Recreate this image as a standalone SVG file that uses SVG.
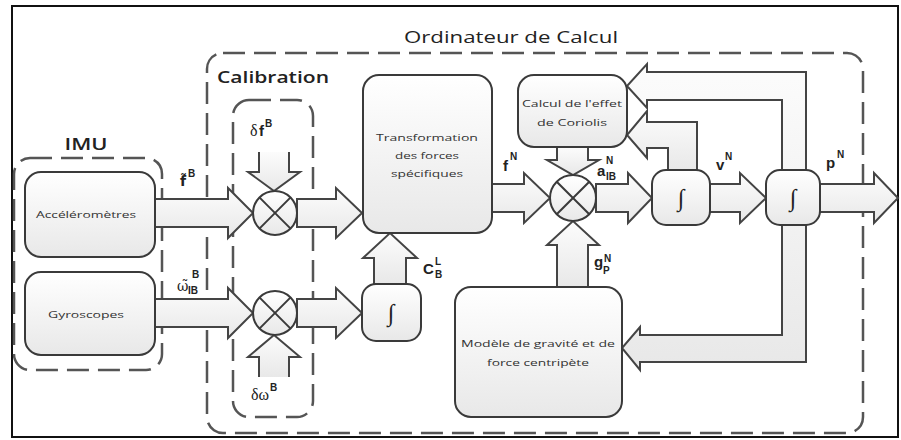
<svg xmlns="http://www.w3.org/2000/svg" width="901" height="440" viewBox="0 0 901 440">
  <defs>
    <linearGradient id="boxFill" x1="0" y1="0" x2="0" y2="1">
      <stop offset="0" stop-color="#ffffff"/>
      <stop offset="1" stop-color="#e8e8e8"/>
    </linearGradient>
    <linearGradient id="arrowFill" x1="0" y1="0" x2="0" y2="1">
      <stop offset="0" stop-color="#fcfcfc"/>
      <stop offset="1" stop-color="#e8e8e8"/>
    </linearGradient>
  </defs>
  <style>
    .frame { fill: #ffffff; stroke: #111111; stroke-width: 2; }
    .group { fill: none; stroke: #555555; stroke-width: 2.5; stroke-dasharray: 22 9; }
    .box { fill: url(#boxFill); stroke: #3a3a3a; stroke-width: 2; }
    .arrow { fill: url(#arrowFill); stroke: #444444; stroke-width: 2; stroke-linejoin: miter; }
    .sum { fill: url(#boxFill); stroke: #3a3a3a; stroke-width: 2; }
    .sum line { stroke: #3a3a3a; stroke-width: 2; }
    .title { font-family: "Open Sans", "Liberation Sans", sans-serif; font-size: 17px; font-weight: 600; fill: #222222; }
    .heading { font-weight: 500; }
    .label { font-family: "Open Sans", "Liberation Sans", sans-serif; font-size: 9.5px; fill: #333333; text-anchor: middle; }
    .math { font-family: "Liberation Sans", "DejaVu Sans", sans-serif; font-size: 15px; font-weight: bold; fill: #222222; }
    .accent { font-family: "DejaVu Sans", sans-serif; font-size: 14px; font-weight: bold; fill: #222222; }
    .sup { font-size: 10px; }
    .greek { font-family: "Liberation Serif", "DejaVu Serif", serif; font-size: 16px; fill: #222222; }
    .greek-accent { font-family: "DejaVu Serif", serif; font-size: 14px; fill: #222222; }
    .int { font-family: "Liberation Serif", "DejaVu Serif", serif; font-size: 24px; fill: #222222; text-anchor: middle; }
  </style>

  <rect class="frame" x="12" y="6" width="886" height="431"/>

  <!-- grouping frames -->
  <g id="ordinateur">
    <rect class="group" x="207" y="53" width="656" height="380" rx="16"/>
    <text class="title heading" x="511" y="43" text-anchor="middle" textLength="214" lengthAdjust="spacingAndGlyphs">Ordinateur de Calcul</text>
    <text class="title" x="217" y="83" textLength="112" lengthAdjust="spacingAndGlyphs">Calibration</text>
  </g>
  <g id="imu">
    <rect class="group" x="14" y="158" width="148" height="212" rx="16"/>
    <text class="title" x="86" y="150" text-anchor="middle" textLength="43" lengthAdjust="spacingAndGlyphs">IMU</text>
  </g>
  <g id="calibration-errors">
    <rect class="group" x="233" y="100" width="80" height="317" rx="16"/>
  </g>

  <!-- connectors (block arrows) -->
  <g id="connectors">
    <polygon class="arrow" points="150,199 228,199 228,188 253,213 228,238 228,227 150,227"/>
    <polygon class="arrow" points="150,299 228,299 228,288 253,313 228,338 228,327 150,327"/>
    <polygon class="arrow" points="297,199 336,199 336,188 362,213 336,238 336,227 297,227"/>
    <polygon class="arrow" points="297,299 336,299 336,288 362,313 336,338 336,327 297,327"/>
    <polygon class="arrow" points="374,284 374,258 363,258 390,233 417,258 406,258 406,284"/>
    <path class="arrow" d="M259,152 V172 H248 L274,191 L300,172 H289 V152"/>
    <path class="arrow" d="M259,377 V357 H248 L274,335 L300,357 H289 V377"/>
    <polygon class="arrow" points="492,184 524,184 524,173 550,198 524,223 524,212 492,212"/>
    <polygon class="arrow" points="596,184 628,184 628,173 652,198 628,223 628,212 596,212"/>
    <polygon class="arrow" points="710,184 740,184 740,173 766,198 740,223 740,212 710,212"/>
    <polygon class="arrow" points="820,184 874,184 874,173 898,198 874,223 874,212 820,212"/>
    <polygon class="arrow" points="557,147 557,160 547,160 573,175 599,160 588,160 588,147"/>
    <polygon class="arrow" points="557,287 557,245 547,245 573,221 599,245 588,245 588,287"/>
    <polygon class="arrow" points="697,171 697,122 647,122 647,111 627,135 647,158 647,148 668,148 668,171"/>
    <polygon class="arrow" points="647,72 806,72 806,362 640,362 640,370 622,348 640,327 640,335 782,335 782,100 647,100 647,108 627,86 647,64"/>
  </g>

  <!-- sensors -->
  <g id="accelerometres">
    <rect class="box" x="25" y="172" width="130" height="85" rx="16"/>
    <text class="label" x="86" y="218" textLength="100" lengthAdjust="spacingAndGlyphs">Accéléromètres</text>
  </g>
  <g id="gyroscopes">
    <rect class="box" x="25" y="272" width="130" height="83" rx="16"/>
    <text class="label" x="86" y="318" textLength="76" lengthAdjust="spacingAndGlyphs">Gyroscopes</text>
  </g>

  <!-- summing junctions -->
  <g id="sum-f" class="sum">
    <circle cx="275" cy="213" r="22"/>
    <line x1="259.4" y1="197.4" x2="290.6" y2="228.6"/>
    <line x1="290.6" y1="197.4" x2="259.4" y2="228.6"/>
  </g>
  <g id="sum-w" class="sum">
    <circle cx="275" cy="313" r="22"/>
    <line x1="259.4" y1="297.4" x2="290.6" y2="328.6"/>
    <line x1="290.6" y1="297.4" x2="259.4" y2="328.6"/>
  </g>
  <g id="sum-a" class="sum">
    <circle cx="573" cy="198" r="23"/>
    <line x1="556.7" y1="181.7" x2="589.3" y2="214.3"/>
    <line x1="589.3" y1="181.7" x2="556.7" y2="214.3"/>
  </g>

  <!-- processing blocks -->
  <g id="transformation">
    <rect class="box" x="363" y="75" width="129" height="158" rx="16"/>
    <text class="label" x="427" y="141" textLength="102" lengthAdjust="spacingAndGlyphs">Transformation</text>
    <text class="label" x="427" y="159" textLength="64" lengthAdjust="spacingAndGlyphs">des forces</text>
    <text class="label" x="427" y="177" textLength="72" lengthAdjust="spacingAndGlyphs">spécifiques</text>
  </g>
  <g id="integrateur-attitude">
    <rect class="box" x="362" y="284" width="59" height="57" rx="14"/>
    <text class="int" x="391" y="321">∫</text>
  </g>
  <g id="coriolis">
    <rect class="box" x="518" y="75" width="109" height="72" rx="16"/>
    <text class="label" x="572" y="107" textLength="100" lengthAdjust="spacingAndGlyphs">Calcul de l'effet</text>
    <text class="label" x="572" y="126" textLength="70" lengthAdjust="spacingAndGlyphs">de Coriolis</text>
  </g>
  <g id="integrateur-vitesse">
    <rect class="box" x="652" y="170" width="58" height="55" rx="14"/>
    <text class="int" x="681" y="206">∫</text>
  </g>
  <g id="integrateur-position">
    <rect class="box" x="766" y="170" width="54" height="55" rx="14"/>
    <text class="int" x="793" y="206">∫</text>
  </g>
  <g id="gravite">
    <rect class="box" x="455" y="287" width="167" height="130" rx="16"/>
    <text class="label" x="538" y="347" textLength="154" lengthAdjust="spacingAndGlyphs">Modèle de gravité et de</text>
    <text class="label" x="538" y="366" textLength="102" lengthAdjust="spacingAndGlyphs">force centripète</text>
  </g>

  <!-- signal labels -->
  <g id="signal-labels">
    <text class="accent" x="180" y="186">f̃</text>
    <text class="math sup" x="188" y="177">B</text>

    <text class="greek-accent" x="177" y="291">ω̃</text>
    <text class="math sup" x="192" y="278">B</text>
    <text class="math sup" x="188" y="294">IB</text>

    <text class="greek" x="250" y="136">δ</text>
    <text class="math" x="259" y="136">f</text>
    <text class="math sup" x="265" y="127">B</text>

    <text class="greek" x="251" y="400">δω</text>
    <text class="math sup" x="270" y="391">B</text>

    <text class="math" x="423" y="274">C</text>
    <text class="math sup" x="435" y="265">L</text>
    <text class="math sup" x="435" y="278">B</text>

    <text class="math" x="503" y="171">f</text>
    <text class="math sup" x="510" y="160">N</text>

    <text class="math" x="597" y="176">a</text>
    <text class="math sup" x="606" y="164">N</text>
    <text class="math sup" x="606" y="180">IB</text>

    <text class="math" x="594" y="267">g</text>
    <text class="math sup" x="604" y="262">N</text>
    <text class="math sup" x="603" y="274">P</text>

    <text class="math" x="716" y="170">v</text>
    <text class="math sup" x="725" y="160">N</text>

    <text class="math" x="826" y="168">p</text>
    <text class="math sup" x="837" y="158">N</text>
  </g>
</svg>
